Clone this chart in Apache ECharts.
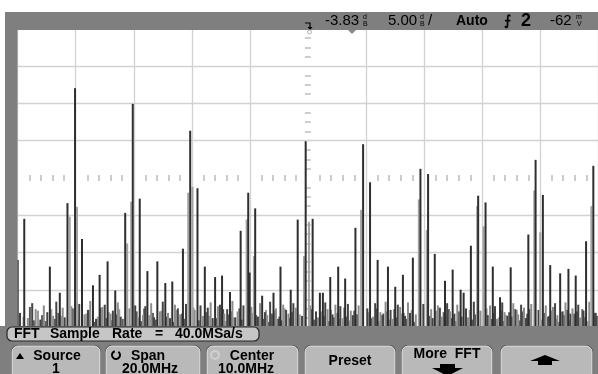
<!DOCTYPE html>
<html><head><meta charset="utf-8">
<script src="https://cdn.jsdelivr.net/npm/echarts@6/dist/echarts.min.js"></script>
<style>html,body{margin:0;padding:0;background:#fff}#c{width:598px;height:374px}</style>
</head><body><div id="c"></div>
<script>
// Screen scale: FFT span 0..20 MHz (2 MHz/div), reference -3.83 dB at centre, 5 dB/div
const spanMHz = [0, 20];
const mhzPerDiv = 2;
const refDb = -3.83;
const dbPerDiv = 5;
const vDivs = 8;

// Main (bright) trace spikes: frequency (MHz) and peak level (dB)
const peakFreq = [0.0,0.226,1.108,1.451,1.715,1.976,2.216,2.594,2.823,3.098,3.362,3.705,3.966,4.206,4.470,4.813,5.087,5.328,5.695,5.945,6.196,6.449,6.803,7.043,7.317,7.684,7.945,7.993,8.185,8.425,8.816,9.057,9.410,9.650,9.925,10.165,10.415,10.518,10.772,11.046,11.286,11.640,11.904,12.144,12.405,12.761,13.012,13.276,13.619,13.880,14.144,14.374,14.727,14.991,15.266,15.369,15.619,15.870,16.124,16.374,16.624,16.991,17.599,17.849,18.100,18.353,18.696,18.981,19.232,19.589,19.839];
const peakDb = [-14.8,-9.3,-15.7,-19.2,-7.2,8.2,-12.0,-18.2,-16.8,-15.0,-18.9,-8.5,6.1,-6.6,-16.3,-15.0,-17.9,-17.7,-13.3,2.5,-5.2,-15.7,-17.1,-16.9,-19.1,-10.9,-5.8,-16.5,-7.9,-19.6,-19.2,-15.7,-18.8,-9.4,1.1,-9.3,-19.2,-19.2,-17.1,-15.7,-17.3,-10.5,0.7,-4.4,-14.8,-15.7,-18.4,-16.8,-14.5,-2.6,-3.3,-14.0,-17.6,-16.1,-18.8,-19.2,-12.9,-6.2,-7.1,-15.7,-19.8,-15.8,-11.4,-1.4,-6.1,-15.5,-16.6,-16.0,-16.9,-12.3,-2.2];

// Dim (grey) trace components beside the main spikes
const dimFreq = [1.794,2.045,3.774,3.911,5.877,6.024,7.890,8.141,9.866,10.038,11.835,13.825,14.099,15.835,16.055,17.804,18.010,19.770];
const dimDb = [-9.0,-7.7,-12.6,-7.0,-5.8,-5.0,-9.4,-14.3,-14.3,-9.7,-8.1,-6.7,-10.8,-7.6,-10.3,-5.5,-11.1,-7.6];

// Noise-floor "grass" near the bottom of the screen (two interleaved sets)
const grassFreq = [0.08,0.35,0.5,0.62,0.78,0.9,1.02,1.22,1.33,1.55,1.62,1.85,2.12,2.3,2.42,2.5,2.7,2.92,3.0,3.2,3.28,3.45,3.55,3.85,4.05,4.32,4.4,4.6,4.7,4.9,5.0,5.18,5.25,5.42,5.52,5.6,5.8,6.1,6.3,6.38,6.55,6.65,6.72,6.9,6.97,7.12,7.22,7.4,7.5,7.58,7.78,8.05,8.28,8.35,8.52,8.6,8.7,8.9,8.98,9.15,9.25,9.33,9.5,9.58,9.8,10.08,10.28,10.35,10.6,10.68,10.85,10.95,11.12,11.2,11.38,11.48,11.55,11.75,12.05,12.25,12.32,12.5,12.6,12.68,12.85,12.92,13.1,13.18,13.35,13.45,13.52,13.72,13.98,14.25,14.3,14.48,14.55,14.62,14.8,14.9,15.05,15.15,15.45,15.52,15.72,15.95,16.2,16.28,16.45,16.52,16.7,16.78,16.88,17.08,17.15,17.25,17.35,17.45,17.52,17.7,17.95,18.2,18.28,18.45,18.52,18.6,18.78,18.88,19.05,19.12,19.32,19.4,19.5,19.7,19.92];
const grassDb = [-21.9,-22.6,-20.6,-21.4,-22.8,-20.9,-21.8,-22.3,-20.4,-21.2,-22.5,-21.0,-20.7,-22.1,-21.5,-20.3,-22.7,-21.1,-20.8,-22.0,-21.6,-20.5,-22.4,-21.3,-20.9,-22.2,-21.0,-20.6,-22.5,-21.7,-20.4,-21.9,-22.6,-20.8,-21.3,-22.1,-20.7,-21.5,-20.9,-22.3,-21.2,-20.5,-22.6,-21.0,-20.8,-22.0,-21.4,-20.3,-22.5,-21.7,-20.9,-21.1,-22.4,-20.6,-21.8,-22.2,-20.4,-21.3,-22.7,-20.8,-21.5,-22.0,-20.6,-21.2,-22.3,-20.9,-21.7,-22.5,-20.5,-21.4,-22.1,-20.8,-21.0,-22.6,-20.7,-21.6,-22.2,-20.9,-21.3,-22.4,-20.6,-21.8,-22.0,-20.4,-21.5,-22.7,-20.8,-21.1,-22.3,-20.5,-21.9,-22.1,-20.7,-21.4,-22.6,-20.9,-21.2,-22.4,-20.6,-21.7,-22.0,-20.8,-21.3,-22.5,-20.4,-21.6,-22.2,-20.9,-21.0,-22.7,-20.5,-21.8,-22.3,-20.6,-21.4,-22.1,-20.8,-21.2,-22.6,-20.7,-21.5,-20.9,-22.4,-21.1,-20.6,-22.2,-21.7,-20.5,-22.0,-21.3,-20.8,-22.5,-21.6,-20.4,-21.9];
const grass2Freq = [0.2,0.42,0.56,0.7,0.84,0.96,1.16,1.28,1.4,1.5,1.9,2.06,2.36,2.46,2.64,2.76,2.86,3.06,3.14,3.24,3.4,3.5,3.62,4.1,4.16,4.26,4.36,4.54,4.66,4.76,4.96,5.12,5.36,5.46,5.66,5.74,6.06,6.24,6.5,6.6,6.84,7.08,7.16,7.28,7.36,7.46,7.64,7.72,8.1,8.22,8.46,8.56,8.66,8.76,8.86,9.02,9.1,9.2,9.38,9.46,9.72,10.12,10.22,10.46,10.56,10.72,10.8,10.9,11.02,11.08,11.26,11.34,11.44,11.6,11.7,12.1,12.2,12.38,12.46,12.56,12.72,12.8,12.98,13.06,13.24,13.3,13.4,13.58,13.66,14.2,14.42,14.52,14.68,14.76,14.86,14.96,15.1,15.2,15.3,15.58,15.66,15.78,16.16,16.32,16.4,16.58,16.66,16.74,16.84,16.94,17.04,17.2,17.3,17.4,17.48,17.56,17.64,18.06,18.16,18.32,18.4,18.56,18.66,18.74,18.84,18.94,19.0,19.18,19.28,19.36,19.46,19.56,19.66,19.88,19.96];
const grass2Db = [-22.4,-21.1,-22.9,-21.6,-22.2,-23.0,-21.4,-22.7,-21.9,-22.3,
-21.3,-22.8,-22.0,-21.5,-23.1,-22.4,-21.2,-22.6,-21.8,-22.9,
-22.1,-21.4,-22.7,-21.7,-22.5,-23.0,-21.3,-22.2,-21.9,-22.8,
-21.6,-22.4,-23.1,-21.5,-22.0,-22.7,-21.2,-22.9,-21.8,-22.3,
-22.6,-21.4,-23.0,-22.1,-21.7,-22.5,-21.3,-22.8,-21.9,-22.2,
-22.7,-21.5,-23.1,-22.0,-21.6,-22.4,-22.9,-21.3,-22.6,-21.8,
-22.1,-21.4,-22.8,-21.7,-22.3,-23.0,-21.5,-22.5,-21.9,-22.7,
-21.2,-22.4,-22.9,-21.6,-22.1,-21.8,-22.6,-21.3,-23.0,-22.2,
-21.7,-22.8,-21.4,-22.5,-22.0,-21.9,-22.7,-21.5,-23.1,-22.3,
-21.6,-22.9,-21.8,-22.2,-21.4,-22.6,-23.0,-21.7,-22.4,-21.5,
-22.8,-22.1,-21.3,-22.7,-21.9,-22.5,-21.6,-23.0,-22.2,-21.8,
-22.4,-21.5,-22.9,-21.7,-22.6,-22.0,-21.4,-22.8,-21.9,-22.3,
-21.6,-22.7,-23.1,-21.8,-22.2,-21.5,-22.9,-22.0,-21.7,-22.6,
-21.4,-22.5,-23.0,-21.9,-22.3];

const bottomDb = refDb - dbPerDiv * vDivs / 2;
const toLevel = v => +(v - bottomDb).toFixed(2);

const data = [];
grass2Freq.forEach((f, i) => data.push({ value: [f, toLevel(grass2Db[i])], itemStyle: { color: i % 3 ? '#5a5a5a' : '#9a9a9a' } }));
grassFreq.forEach((f, i) => data.push({ value: [f, toLevel(grassDb[i])], itemStyle: { color: i % 2 ? '#8c8c8c' : '#444' } }));
dimFreq.forEach((f, i) => data.push({ value: [f, toLevel(dimDb[i])], itemStyle: { color: '#a3a3a3' } }));
peakFreq.forEach((f, i) => data.push({ value: [f, toLevel(peakDb[i])], itemStyle: { color: '#2e2e2e' } }));

const gridCol = '#d2d2d2';
const xSplitColors = [], ySplitColors = [];
for (let i = 0; i <= (spanMHz[1] - spanMHz[0]) / mhzPerDiv; i++) xSplitColors.push(i === 5 ? 'rgba(0,0,0,0)' : gridCol);
for (let i = 0; i <= vDivs; i++) ySplitColors.push(i === 4 ? 'rgba(0,0,0,0)' : gridCol);

const hidden = { show: false };
const tickStyle = { color: '#bdbdbd', width: 1.5 };

const chart = echarts.init(document.getElementById('c'), null, { renderer: 'canvas' });
const F = 'Liberation Sans, Arial, sans-serif';

function button(x, w) {
  return [
    { type: 'rect', z: 101, shape: { x: x - 1, y: 345, width: w + 2, height: 40, r: [7, 7, 0, 0] }, style: { fill: '#3c3c3c' } },
    { type: 'rect', z: 102, shape: { x: x, y: 346, width: w, height: 40, r: [6, 6, 0, 0] }, style: { fill: '#b9b9b9', stroke: '#e6e6e6', lineWidth: 1 } }
  ];
}
function txt(x, y, t, size, weight, align, color) {
  return { type: 'text', z: 110, x: x, y: y, style: { text: t, fill: color || '#000', font: (weight || 'normal') + ' ' + size + 'px ' + F, textAlign: align || 'left', textVerticalAlign: 'middle' } };
}

const graphics = [
  { type: 'rect', z: 100, shape: { x: 5, y: 12, width: 593, height: 18 }, style: { fill: '#7f7f7f' } },
  { type: 'rect', z: 100, shape: { x: 5, y: 12, width: 12.5, height: 316 }, style: { fill: '#7f7f7f' } },
  { type: 'rect', z: 100, shape: { x: 0, y: 326, width: 598, height: 48 }, style: { fill: '#7f7f7f' } },
  { type: 'polyline', z: 110, shape: { points: [[305, 23], [310, 23], [310, 29]] }, style: { stroke: '#000', lineWidth: 1.2, fill: null } },
  { type: 'polygon', z: 110, shape: { points: [[307.5, 27], [312.5, 27], [310, 30]] }, style: { fill: '#000' } },
  txt(325, 21, '-3.83', 15),
  txt(363, 17.5, 'd', 7), txt(363, 24.5, 'B', 7),
  txt(388, 21, '5.00', 15),
  txt(420, 17.5, 'd', 7), txt(420, 24.5, 'B', 7),
  txt(428, 21, '/', 15),
  txt(456, 21, 'Auto', 14, 'bold'),
  txt(504, 21, '\u2A0D', 14, 'bold'),
  txt(521, 21, '2', 18, 'bold'),
  txt(550, 21, '-62', 15),
  txt(576, 17.5, 'm', 7), txt(577, 24.5, 'V', 7),
  { type: 'polygon', z: 110, shape: { points: [[348, 30], [356, 30], [352, 34]] }, style: { fill: '#8a8a8a' } },
  { type: 'circle', z: 110, shape: { cx: 309.5, cy: 32, r: 2 }, style: { fill: null, stroke: '#b0b0b0', lineWidth: 1 } },
  { type: 'rect', z: 101, shape: { x: 7, y: 327, width: 252, height: 14, r: 5 }, style: { fill: '#c6c6c6', stroke: '#262626', lineWidth: 1.2 } },
  txt(14, 334.5, 'FFT', 14, 'bold'),
  txt(50, 334.5, 'Sample', 14, 'bold'),
  txt(112, 334.5, 'Rate', 14, 'bold'),
  txt(155, 334.5, '=', 14, 'bold'),
  txt(175, 334.5, '40.0MSa/s', 14, 'bold'),
  ...button(12, 88), ...button(106, 94), ...button(207, 91), ...button(305, 90), ...button(402, 90), ...button(501, 91),
  { type: 'polygon', z: 110, shape: { points: [[16, 359], [24, 359], [20, 353]] }, style: { fill: '#000' } },
  txt(57, 356, 'Source', 14, 'bold', 'center'),
  txt(56, 369, '1', 14, 'bold', 'center'),
  { type: 'arc', z: 110, shape: { cx: 116, cy: 355, r: 4, startAngle: -Math.PI * 0.3, endAngle: Math.PI * 1.4 }, style: { stroke: '#000', lineWidth: 2, fill: null } },
  txt(148, 356, 'Span', 14, 'bold', 'center'),
  txt(150, 369, '20.0MHz', 14, 'bold', 'center'),
  { type: 'circle', z: 110, shape: { cx: 215, cy: 355, r: 4 }, style: { stroke: '#d0d0d0', lineWidth: 2, fill: null } },
  txt(252, 356, 'Center', 14, 'bold', 'center'),
  txt(246, 369, '10.0MHz', 14, 'bold', 'center'),
  txt(350, 361, 'Preset', 14, 'bold', 'center'),
  txt(447, 354, 'More  FFT', 14, 'bold', 'center'),
  { type: 'polygon', z: 110, shape: { points: [[440, 364], [455, 364], [455, 368], [463, 368], [447.5, 376], [432, 368], [440, 368]] }, style: { fill: '#000' } },
  { type: 'polygon', z: 110, shape: { points: [[545, 355], [560, 361], [552, 361], [552, 365], [538, 365], [538, 361], [530, 361]] }, style: { fill: '#000' } }
];

const option = {
  animation: false,
  backgroundColor: '#ffffff',
  grid: { left: 17.7, right: -3, top: 28.7, bottom: 46.7, containLabel: false },
  xAxis: [
    { type: 'value', min: spanMHz[0], max: spanMHz[1], interval: mhzPerDiv, axisLine: hidden, axisTick: hidden, axisLabel: hidden,
      splitLine: { show: true, lineStyle: { color: xSplitColors, width: 1.3 } } },
    { type: 'value', position: 'bottom', min: spanMHz[0], max: spanMHz[1], interval: mhzPerDiv, axisLabel: hidden, splitLine: hidden,
      axisLine: { show: false, onZero: true, onZeroAxisIndex: 1 }, axisTick: { show: false }, minorTick: { show: true, splitNumber: 5, length: 3, lineStyle: tickStyle } },
    { type: 'value', position: 'top', min: spanMHz[0], max: spanMHz[1], interval: mhzPerDiv, axisLabel: hidden, splitLine: hidden,
      axisLine: { show: false, onZero: true, onZeroAxisIndex: 1 }, axisTick: { show: false }, minorTick: { show: true, splitNumber: 5, length: 3, lineStyle: tickStyle } },
    { type: 'value', min: -10, max: 10, show: false }
  ],
  yAxis: [
    { type: 'value', min: 0, max: dbPerDiv * vDivs, interval: dbPerDiv, axisLine: hidden, axisTick: hidden, axisLabel: hidden,
      splitLine: { show: true, lineStyle: { color: ySplitColors, width: 1.3 } } },
    { type: 'value', min: -20, max: 20, show: false },
    { type: 'value', position: 'left', min: 0, max: dbPerDiv * vDivs, interval: dbPerDiv, axisLabel: hidden, splitLine: hidden,
      axisLine: { show: false, onZero: true, onZeroAxisIndex: 3 }, axisTick: { show: false }, minorTick: { show: true, splitNumber: 4, length: 3, lineStyle: tickStyle } },
    { type: 'value', position: 'right', min: 0, max: dbPerDiv * vDivs, interval: dbPerDiv, axisLabel: hidden, splitLine: hidden,
      axisLine: { show: false, onZero: true, onZeroAxisIndex: 3 }, axisTick: { show: false }, minorTick: { show: true, splitNumber: 4, length: 3, lineStyle: tickStyle } }
  ],
  series: [{
    type: 'bar', xAxisIndex: 0, yAxisIndex: 0, barWidth: 2, data: data,
    itemStyle: { borderWidth: 0 }
  }],
  graphic: graphics
};
chart.setOption(option);
</script>
</body></html>
